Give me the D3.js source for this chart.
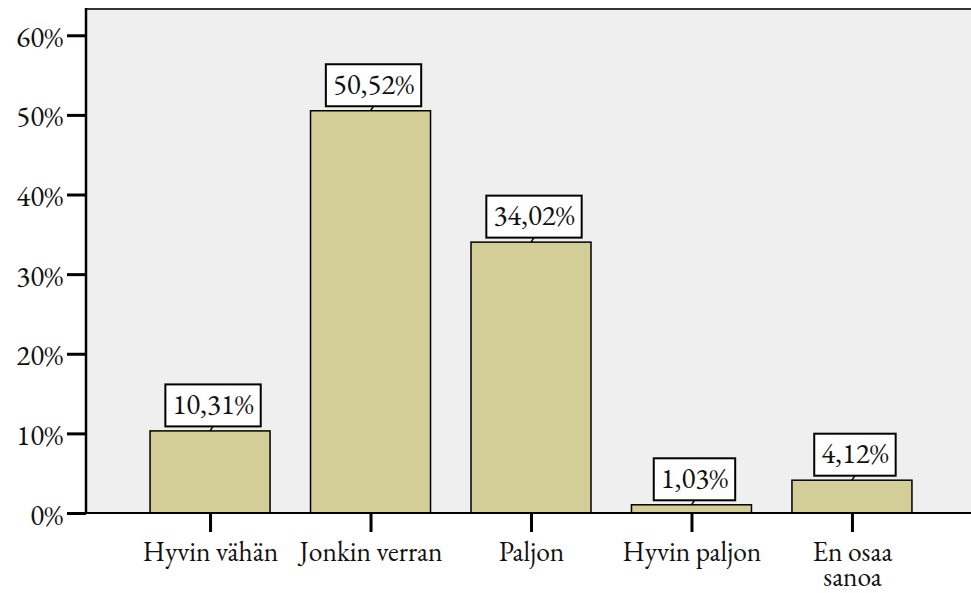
<!DOCTYPE html>
<html><head><meta charset="utf-8">
<script src="https://cdn.jsdelivr.net/npm/d3@7"></script>
<style>body{margin:0;background:#fff}svg{display:block}</style>
</head><body>
<script>
const categories = ["Hyvin vähän", "Jonkin verran", "Paljon", "Hyvin paljon", "En osaa sanoa"];
const values = [10.31, 50.52, 34.02, 1.03, 4.12];
const valueLabels = ["10,31%", "50,52%", "34,02%", "1,03%", "4,12%"];
const yTicks = [0, 10, 20, 30, 40, 50, 60];

const FONT = "EB Garamond";
const W = 971, H = 593;
const mLeft = 86, mRight = 976, mTop = 9, mBottom = 513;
const svg = d3.select("body").append("svg").attr("width", W).attr("height", H);

const x = d3.scalePoint().domain(categories).range([mLeft, mRight]).padding(0.773);
const y = d3.scaleLinear().domain([0, 63.3]).range([mBottom, mTop]);
const barW = 120;

svg.append("rect").attr("x", mLeft).attr("y", mTop).attr("width", W - mLeft + 10).attr("height", mBottom - mTop)
  .attr("fill", "#efefef");
svg.append("line").attr("x1", mLeft).attr("x2", W).attr("y1", mTop).attr("y2", mTop)
  .attr("stroke", "#333").attr("stroke-width", 2);

// bars
svg.selectAll("rect.bar").data(values).join("rect").attr("class", "bar")
  .attr("x", (d, i) => x(categories[i]) - barW / 2).attr("width", barW)
  .attr("y", d => y(d)).attr("height", d => mBottom - y(d))
  .attr("fill", "#d3ce98").attr("stroke", "#000").attr("stroke-width", 1.5);

// y axis
const yAxis = svg.append("g").attr("transform", `translate(${mLeft},0)`)
  .call(d3.axisLeft(y).tickValues(yTicks).tickFormat(d => d + "%").tickSize(19).tickPadding(4));
yAxis.attr("font-family", FONT);
yAxis.select(".domain").remove();
yAxis.selectAll(".tick line").attr("stroke", "#000").attr("stroke-width", 3);
yAxis.selectAll(".tick text").attr("font-size", 29).attr("font-family", FONT).attr("dy", 11).attr("fill", "#111");
svg.append("line").attr("x1", mLeft).attr("x2", mLeft).attr("y1", mTop - 1).attr("y2", mBottom + 1)
  .attr("stroke", "#000").attr("stroke-width", 2.5);

// x axis
const xAxis = svg.append("g").attr("transform", `translate(0,${mBottom})`)
  .call(d3.axisBottom(x).tickSize(19).tickPadding(8));
xAxis.attr("font-family", FONT);
xAxis.select(".domain").remove();
xAxis.selectAll(".tick line").attr("stroke", "#000").attr("stroke-width", 3);
xAxis.selectAll(".tick text").attr("font-size", 27.5).attr("font-family", FONT).attr("fill", "#111")
  .attr("y", 48).attr("dy", null).each(function (d) {
    const t = d3.select(this);
    if (d === "En osaa sanoa") {
      t.text(null);
      t.append("tspan").attr("x", 0).attr("dy", 0).text("En osaa");
      t.append("tspan").attr("x", 0).attr("dy", 25).text("sanoa");
    }
  });
svg.append("line").attr("x1", mLeft).attr("x2", W).attr("y1", mBottom).attr("y2", mBottom)
  .attr("stroke", "#000").attr("stroke-width", 2);

// value labels
const lab = svg.selectAll("g.lab").data(values).join("g").attr("class", "lab");
lab.each(function (d, i) {
  const g = d3.select(this);
  const cx = x(categories[i]);
  const by = y(d);
  const boxBottom = by - 4.5;
  const boxH = 42;
  const t = g.append("text").attr("x", cx + 3).attr("y", boxBottom - 12.5).attr("text-anchor", "middle")
    .attr("font-size", 29).attr("font-family", FONT).attr("fill", "#111").text(valueLabels[i]);
  const bb = t.node().getBBox();
  const bw = bb.width + 14;
  g.insert("rect", "text").attr("x", cx + 3 - bw / 2).attr("y", boxBottom - boxH).attr("width", bw).attr("height", boxH)
    .attr("fill", "#fff").attr("stroke", "#000").attr("stroke-width", 2);
  g.append("line").attr("x1", cx + 3).attr("x2", cx).attr("y1", boxBottom).attr("y2", by)
    .attr("stroke", "#000").attr("stroke-width", 1.5);
});
</script>
</body></html>
